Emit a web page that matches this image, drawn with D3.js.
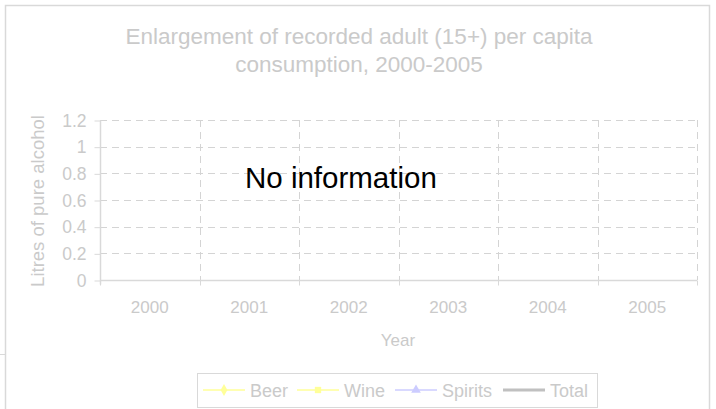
<!DOCTYPE html>
<html>
<head>
<meta charset="utf-8">
<script src="https://cdn.jsdelivr.net/npm/d3@7"></script>
<style>
  body { margin: 0; background: #fff; }
  text { font-family: "Liberation Sans", Arial, sans-serif; }
</style>
</head>
<body>
<div id="chart"></div>
<script>
// Categories and tick labels
const years = ["2000", "2001", "2002", "2003", "2004", "2005"];
const yTicks = [0, 0.2, 0.4, 0.6, 0.8, 1, 1.2];

// Series values (no information recorded for this country)
const beer = [null, null, null, null, null, null];
const wine = [null, null, null, null, null, null];
const spirits = [null, null, null, null, null, null];
const total = [null, null, null, null, null, null];

const seriesNames = ["Beer", "Wine", "Spirits", "Total"];
const seriesColors = ["#ffff99", "#ffff99", "#ccccff", "#c0c0c0"];
const seriesMarkers = ["diamond", "square", "triangle", null];

const W = 716, H = 409;
const grid = "#d4d4d4", axisCol = "#d9d9d9", textCol = "#cacaca";

const svg = d3.select("#chart").append("svg")
    .attr("width", W)
    .attr("height", H);

// outer frame of the chart object
svg.append("rect")
    .attr("x", 5.5).attr("y", 5.5)
    .attr("width", 704).attr("height", 420)
    .attr("fill", "none")
    .attr("stroke", axisCol)
    .attr("stroke-width", 1.5);
svg.append("line")
    .attr("x1", 0).attr("x2", 5).attr("y1", 354.5).attr("y2", 354.5)
    .attr("stroke", axisCol);

const x = d3.scaleBand().domain(years).range([100, 697]).padding(0);
const y = d3.scaleLinear().domain([0, 1.2]).range([280, 120]);

// title
svg.append("text")
    .attr("x", 359).attr("y", 0)
    .attr("text-anchor", "middle")
    .style("font-size", "22.5px")
    .attr("fill", textCol)
    .selectAll("tspan")
    .data(["Enlargement of recorded adult (15+) per capita", "consumption, 2000-2005"])
    .enter().append("tspan")
    .attr("x", 359)
    .attr("y", (d, i) => 44 + i * 28)
    .text(d => d);

// horizontal dashed gridlines
svg.append("g").selectAll("line")
    .data(yTicks.filter(d => d > 0))
    .enter().append("line")
    .attr("x1", 100).attr("x2", 697)
    .attr("y1", d => Math.round(y(d)) + 0.5)
    .attr("y2", d => Math.round(y(d)) + 0.5)
    .attr("stroke", grid)
    .attr("stroke-dasharray", "7,5");

// vertical dashed gridlines at category boundaries
svg.append("g").selectAll("line")
    .data(years)
    .enter().append("line")
    .attr("x1", d => Math.round(x(d) + x.bandwidth()) + 0.5)
    .attr("x2", d => Math.round(x(d) + x.bandwidth()) + 0.5)
    .attr("y1", 120).attr("y2", 280)
    .attr("stroke", grid)
    .attr("stroke-dasharray", "7,5");

// y axis
const yAxis = d3.axisLeft(y).tickValues(yTicks).tickSize(6).tickPadding(8)
    .tickFormat(d => String(d));
const gy = svg.append("g")
    .attr("transform", "translate(100.5,0.5)")
    .call(yAxis);
gy.select(".domain").attr("stroke", axisCol).attr("stroke-width", 1.5)
    .attr("d", "M0,120V284");
gy.selectAll(".tick line").attr("stroke", axisCol);
gy.selectAll(".tick text").attr("fill", textCol).style("font-size", "17.5px");

// x axis
const boundaries = [x(years[0])].concat(years.map(d => x(d) + x.bandwidth()));
const gx = svg.append("g").attr("transform", "translate(0,280.5)");
gx.append("line")
    .attr("x1", 100).attr("x2", 697)
    .attr("stroke", axisCol).attr("stroke-width", 1.5);
gx.selectAll(".tk").data(boundaries).enter().append("line")
    .attr("x1", d => Math.round(d) + 0.5).attr("x2", d => Math.round(d) + 0.5)
    .attr("y1", 0).attr("y2", 5)
    .attr("stroke", axisCol);
gx.selectAll(".lbl").data(years).enter().append("text")
    .attr("x", d => x(d) + x.bandwidth() / 2)
    .attr("y", 32)
    .attr("text-anchor", "middle")
    .attr("fill", textCol)
    .style("font-size", "17px")
    .text(d => d);

// axis titles
svg.append("text")
    .attr("x", 398).attr("y", 346)
    .attr("text-anchor", "middle")
    .attr("fill", textCol)
    .style("font-size", "17px")
    .text("Year");
svg.append("text")
    .attr("transform", "translate(44,201) rotate(-90)")
    .attr("text-anchor", "middle")
    .attr("fill", textCol)
    .style("font-size", "18.5px")
    .text("Litres of pure alcohol");

// series lines (nothing drawn when values are missing)
const line = d3.line()
    .defined(d => d != null)
    .x((d, i) => x(years[i]) + x.bandwidth() / 2)
    .y(d => y(d));
[beer, wine, spirits, total].forEach((s, i) => {
    svg.append("path")
        .datum(s)
        .attr("d", line)
        .attr("fill", "none")
        .attr("stroke", seriesColors[i])
        .attr("stroke-width", i === 3 ? 3 : 1.5);
});

// no data message
svg.append("text")
    .attr("x", 245).attr("y", 188)
    .attr("fill", "#000")
    .style("font-size", "29.5px")
    .text("No information");

// legend
const legend = svg.append("g");
legend.append("rect")
    .attr("x", 197.5).attr("y", 373.5)
    .attr("width", 400).attr("height", 34)
    .attr("fill", "#fff")
    .attr("stroke", axisCol);

const legendX = [203, 297, 395, 503];
const symbolType = { diamond: d3.symbolDiamond, square: d3.symbolSquare, triangle: d3.symbolTriangle };
seriesNames.forEach((name, i) => {
    const g = legend.append("g").attr("transform", `translate(${legendX[i]},390)`);
    g.append("line")
        .attr("x1", 0).attr("x2", 42)
        .attr("stroke", seriesColors[i])
        .attr("stroke-width", i === 3 ? 3 : 1.5);
    if (seriesMarkers[i]) {
        g.append("path")
            .attr("transform", "translate(21,0)")
            .attr("d", d3.symbol().type(symbolType[seriesMarkers[i]]).size(40))
            .attr("fill", seriesColors[i]);
    }
    g.append("text")
        .attr("x", 47).attr("y", 6.5)
        .attr("fill", textCol)
        .style("font-size", "18px")
        .text(name);
});
</script>
</body>
</html>
